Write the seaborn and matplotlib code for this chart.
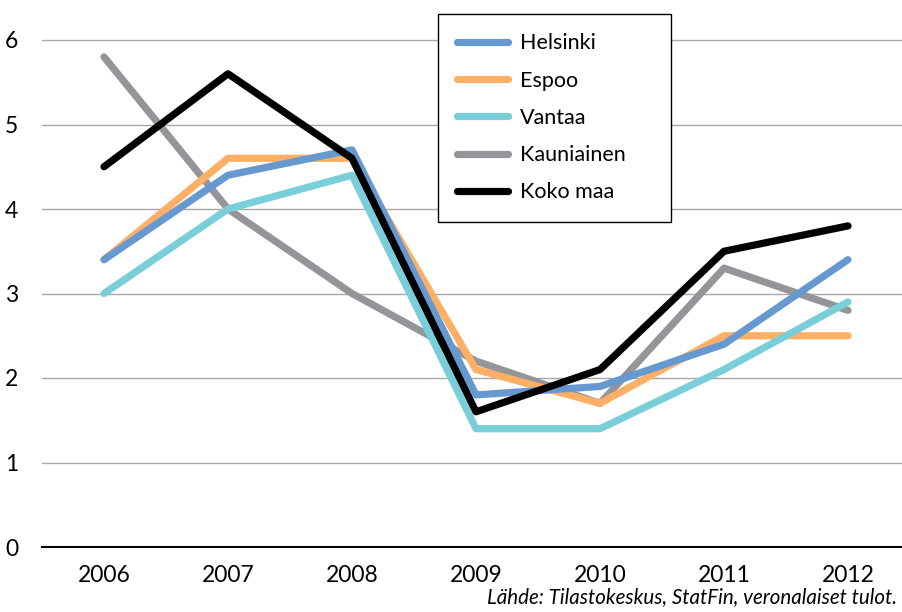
import pandas as pd
import matplotlib.pyplot as plt
import seaborn as sns

# Values
years = [2006, 2007, 2008, 2009, 2010, 2011, 2012]
helsinki = [3.4, 4.4, 4.7, 1.8, 1.9, 2.4, 3.4]
espoo = [3.4, 4.6, 4.6, 2.1, 1.7, 2.5, 2.5]
vantaa = [3.0, 4.0, 4.4, 1.4, 1.4, 2.1, 2.9]
kauniainen = [5.8, 4.0, 3.0, 2.2, 1.7, 3.3, 2.8]
koko_maa = [4.5, 5.6, 4.6, 1.6, 2.1, 3.5, 3.8]

series = ["Helsinki", "Espoo", "Vantaa", "Kauniainen", "Koko maa"]
colors = {"Helsinki": "#6699d0", "Espoo": "#fdb065", "Vantaa": "#78cfd9",
          "Kauniainen": "#939598", "Koko maa": "#000000"}
zorders = {"Kauniainen": 2, "Espoo": 3, "Helsinki": 4, "Vantaa": 5, "Koko maa": 6}

df = pd.DataFrame({"vuosi": years, "Helsinki": helsinki, "Espoo": espoo,
                   "Vantaa": vantaa, "Kauniainen": kauniainen, "Koko maa": koko_maa})
long_df = df.melt(id_vars="vuosi", var_name="alue", value_name="arvo")

sns.set_style("white")
plt.rcParams["font.family"] = ["Lato", "DejaVu Sans"]
plt.rcParams["text.color"] = "black"
plt.rcParams["xtick.color"] = "black"
plt.rcParams["ytick.color"] = "black"

fig = plt.figure(figsize=(9.02, 6.12), dpi=100)
ax = fig.add_axes([42 / 902, 65 / 612, 868 / 902, 6.5 * 84.5 / 612])

for name in series:
    sub = long_df[long_df["alue"] == name]
    sns.lineplot(data=sub, x="vuosi", y="arvo", color=colors[name], linewidth=5.2,
                 ax=ax, zorder=zorders[name], label=name, solid_capstyle="round")

ax.set_xlim(2005.5, 2012.5)
ax.set_ylim(0, 6.5)
ax.set_yticks(range(0, 7))
ax.set_xticks(years)
ax.set_xticks([y + 0.5 for y in years[:-1]] + [2005.5], minor=True)
ax.yaxis.grid(True, color="#a6a6a6", linewidth=1)
ax.set_axisbelow(True)
ax.set_xlabel("")
ax.set_ylabel("")
for s in ["top", "right", "left"]:
    ax.spines[s].set_visible(False)
ax.spines["bottom"].set_color("black")
ax.spines["bottom"].set_linewidth(1.5)
ax.tick_params(axis="x", which="major", length=0, pad=13, labelsize=16.5)
ax.tick_params(axis="x", which="minor", direction="in", length=7, width=1, color="black")
ax.tick_params(axis="y", length=0, pad=17, labelsize=16.5)

h, l = ax.get_legend_handles_labels()
order = [l.index(n) for n in series]
leg = ax.legend([h[i] for i in order], [l[i] for i in order],
                loc="upper left", mode="expand",
                bbox_to_anchor=(438 / 902, 1 - 14 / 612 - 0.3, 233 / 902, 0.3),
                bbox_transform=fig.transFigure, frameon=True, fancybox=False,
                edgecolor="black", framealpha=1, borderaxespad=0,
                handlelength=2.35, handletextpad=0.55, labelspacing=0.8,
                borderpad=0.9, prop={"size": 15.5})
leg.get_frame().set_linewidth(1)
leg.set_zorder(10)

fig.text(897 / 902, 1 - 597 / 612, "Lähde: Tilastokeskus, StatFin, veronalaiset tulot.",
         ha="right", va="center", fontsize=14.8, style="italic")

fig.savefig("out.png", dpi=100)
